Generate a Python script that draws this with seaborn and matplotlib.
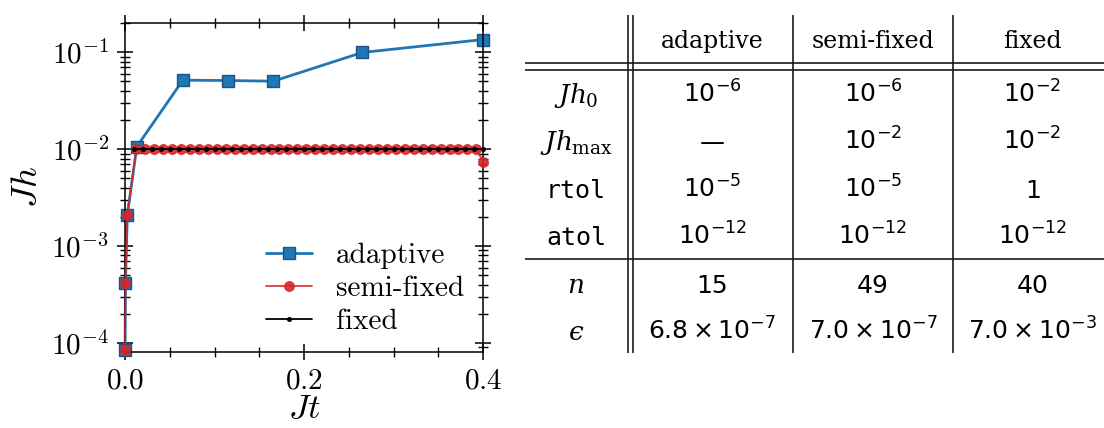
import matplotlib
matplotlib.use("Agg")
import matplotlib.pyplot as plt
from matplotlib.ticker import MultipleLocator, LogLocator, NullFormatter
import seaborn as sns

# Step size Jh taken at each step, plotted against the time Jt reached after the step
t_adaptive = [0.000085, 0.000505, 0.0026, 0.0132, 0.0646, 0.1156, 0.1658, 0.2651, 0.4]
h_adaptive = [0.000085, 0.00042, 0.0021, 0.0106, 0.0514, 0.051, 0.0502, 0.0993, 0.1349]

t_semi = [0.000085, 0.000505, 0.0026,
          0.0126, 0.0226, 0.0326, 0.0426, 0.0526, 0.0626, 0.0726, 0.0826,
          0.0926, 0.1026, 0.1126, 0.1226, 0.1326, 0.1426, 0.1526, 0.1626,
          0.1726, 0.1826, 0.1926, 0.2026, 0.2126, 0.2226, 0.2326, 0.2426,
          0.2526, 0.2626, 0.2726, 0.2826, 0.2926, 0.3026, 0.3126, 0.3226,
          0.3326, 0.3426, 0.3526, 0.3626, 0.3726, 0.3826, 0.3926,
          0.4]
h_semi = [0.000085, 0.00042, 0.0021,
          0.01, 0.01, 0.01, 0.01, 0.01, 0.01, 0.01, 0.01,
          0.01, 0.01, 0.01, 0.01, 0.01, 0.01, 0.01, 0.01,
          0.01, 0.01, 0.01, 0.01, 0.01, 0.01, 0.01, 0.01,
          0.01, 0.01, 0.01, 0.01, 0.01, 0.01, 0.01, 0.01,
          0.01, 0.01, 0.01, 0.01, 0.01, 0.01, 0.01,
          0.0074]

t_fixed = [0.01, 0.02, 0.03, 0.04, 0.05, 0.06, 0.07, 0.08, 0.09, 0.10,
           0.11, 0.12, 0.13, 0.14, 0.15, 0.16, 0.17, 0.18, 0.19, 0.20,
           0.21, 0.22, 0.23, 0.24, 0.25, 0.26, 0.27, 0.28, 0.29, 0.30,
           0.31, 0.32, 0.33, 0.34, 0.35, 0.36, 0.37, 0.38, 0.39, 0.40]
h_fixed = [0.01, 0.01, 0.01, 0.01, 0.01, 0.01, 0.01, 0.01, 0.01, 0.01,
           0.01, 0.01, 0.01, 0.01, 0.01, 0.01, 0.01, 0.01, 0.01, 0.01,
           0.01, 0.01, 0.01, 0.01, 0.01, 0.01, 0.01, 0.01, 0.01, 0.01,
           0.01, 0.01, 0.01, 0.01, 0.01, 0.01, 0.01, 0.01, 0.01, 0.01]

series_labels = ["adaptive", "semi-fixed", "fixed"]

# Parameter / result summary table
table_columns = ["adaptive", "semi-fixed", "fixed"]
row_labels = [r"$Jh_0$", r"$Jh_{\mathrm{max}}$", "rtol", "atol", r"$n$", "$\u03f5$"]
jh0_values = [r"$10^{-6}$", r"$10^{-6}$", r"$10^{-2}$"]
jhmax_values = ["\u2014", r"$10^{-2}$", r"$10^{-2}$"]
rtol_values = [r"$10^{-5}$", r"$10^{-5}$", r"$1$"]
atol_values = [r"$10^{-12}$", r"$10^{-12}$", r"$10^{-12}$"]
n_values = ["15", "49", "40"]
eps_values = [r"$6.8\times10^{-7}$", r"$7.0\times10^{-7}$", r"$7.0\times10^{-3}$"]

sns.set_style("ticks")
plt.rcParams.update({
    "font.family": "serif",
    "font.serif": ["cmr10"],
    "mathtext.fontset": "cm",
    "axes.formatter.use_mathtext": True,
    "axes.unicode_minus": True,
    "font.size": 21,
    "axes.edgecolor": "black",
    "axes.labelcolor": "black",
    "xtick.color": "black",
    "ytick.color": "black",
    "text.color": "black",
    "axes.linewidth": 1.1,
})

fig = plt.figure(figsize=(11.04, 4.28), dpi=100)
fig.patch.set_facecolor("white")
ax = fig.add_axes([125 / 1104, 1 - 352 / 428, 358 / 1104, 329 / 428])

blue = "#1f77b4"
red = "#d62728"

sns.lineplot(x=t_adaptive, y=h_adaptive, ax=ax, sort=False, estimator=None,
             color=blue, linewidth=2.0, marker="s", markersize=8.5,
             markerfacecolor=blue, markeredgecolor="#1b5585", markeredgewidth=1.0,
             label=series_labels[0], zorder=2, clip_on=False)
sns.lineplot(x=t_semi, y=h_semi, ax=ax, sort=False, estimator=None,
             color=red, linewidth=1.3, marker="o", markersize=7.0,
             markerfacecolor=red, markeredgecolor=red, markeredgewidth=0.8,
             alpha=0.9, label=series_labels[1], zorder=3, clip_on=False)
sns.lineplot(x=t_fixed, y=h_fixed, ax=ax, sort=False, estimator=None,
             color="black", linewidth=1.3, marker="o", markersize=3.6,
             markeredgewidth=0.0, label=series_labels[2], zorder=4, clip_on=False)

ax.set_yscale("log")
ax.set_xlim(0.0, 0.4)
ax.set_ylim(8.07e-5, 0.2)
ax.xaxis.set_major_locator(MultipleLocator(0.2))
ax.xaxis.set_minor_locator(MultipleLocator(0.05))
ax.yaxis.set_major_locator(LogLocator(base=10))
ax.yaxis.set_minor_locator(LogLocator(base=10, subs=(2, 3, 4, 5, 6, 7, 8, 9)))
ax.yaxis.set_minor_formatter(NullFormatter())
ax.tick_params(which="both", direction="inout", top=True, right=True)
ax.tick_params(which="major", length=11, width=1.1, pad=6, labelsize=21)
ax.tick_params(which="minor", length=7, width=1.0)
for sp in ax.spines.values():
    sp.set_visible(True)
    sp.set_linewidth(1.1)

ax.set_xlabel(r"$Jt$", fontsize=25, labelpad=-1)
ax.set_ylabel(r"$Jh$", fontsize=26, labelpad=5)

ax.legend(loc="lower right", bbox_to_anchor=(1.0, -0.006), frameon=False,
          fontsize=21, handlelength=1.6, handletextpad=0.8, labelspacing=0.22,
          borderaxespad=0.25, numpoints=1)

# ---- summary table drawn in pixel-like coordinates ----
tab = fig.add_axes([520 / 1104, 0, 584 / 1104, 1])
tab.set_xlim(520, 1104)
tab.set_ylim(428, 0)
tab.axis("off")

rule_kw = dict(color="#1a1a1a", linewidth=1.2, solid_capstyle="butt")
for xv in (627.5, 632.5, 793.3, 952.7):
    tab.plot([xv, xv], [15, 353], **rule_kw)
for yv in (63.0, 70.0, 259.3):
    tab.plot([525, 1104], [yv, yv], **rule_kw)

col_x = [712.5, 873.0, 1032.5]
label_x = 576.0
header_y = 48.0
row_y = [103.0, 150.0, 198.0, 245.0, 293.0, 340.0]

for cx, name in zip(col_x, table_columns):
    tab.text(cx, header_y, name, ha="center", va="baseline",
             fontfamily="DejaVu Serif", fontsize=17)

for ry, lab in zip(row_y, row_labels):
    if lab.startswith("$"):
        tab.text(label_x, ry, lab, ha="center", va="baseline", fontsize=19,
                 math_fontfamily="dejavuserif")
    else:
        tab.text(label_x, ry, lab, ha="center", va="baseline", fontsize=18,
                 fontfamily="DejaVu Sans Mono")

rows = [jh0_values, jhmax_values, rtol_values, atol_values, n_values, eps_values]
for ry, vals in zip(row_y, rows):
    for cx, v in zip(col_x, vals):
        tab.text(cx, ry, v, ha="center", va="baseline", fontsize=18,
                 fontfamily="DejaVu Sans", math_fontfamily="dejavusans")

fig.savefig("out.png", dpi=100, facecolor="white")
